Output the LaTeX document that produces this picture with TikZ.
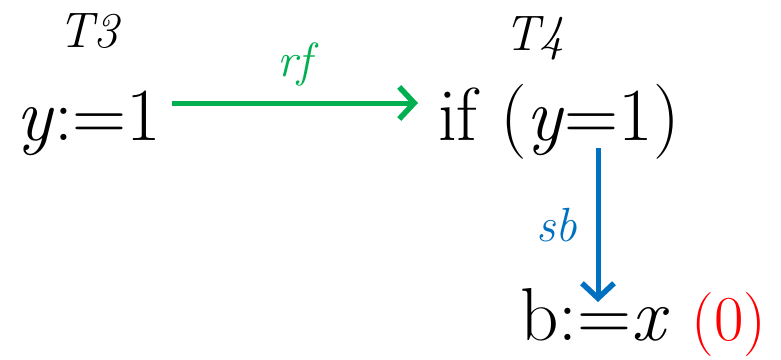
\documentclass[tikz,border=0pt]{standalone}
\usetikzlibrary{arrows.meta}
\definecolor{rfgreen}{RGB}{0,176,80}
\definecolor{sbblue}{RGB}{0,112,192}
\definecolor{valred}{RGB}{255,0,0}
\tikzset{
  big/.style={font=\fontsize{75}{80}\selectfont, inner sep=0pt},
  thread/.style={font=\fontsize{50}{56}\selectfont\itshape, inner sep=0pt},
  lbl/.style={font=\fontsize{48}{52}\selectfont\itshape, inner sep=0pt},
  rel/.style={line width=5pt, -{Straight Barb[length=15pt,width=32pt,line width=5.5pt]}},
}
\begin{document}
\begin{tikzpicture}[x=1pt,y=-1pt]
\useasboundingbox (0,0) rectangle (781,359);
\node[thread, anchor=base] (t3) at (88,47) {T3};
\node[thread, anchor=base] (t4) at (534,50) {T4};
\node[big, anchor=base west] (w) at (16,140) {\textit{y}:=1};
\node[big, anchor=base west] (r) at (438,140) {if (\textit{y}=1)};
\node[big, anchor=base west] (b) at (520,340) {b:=\textit{x} \textcolor{valred}{\fontsize{64}{66}\selectfont(0)}};
\coordinate (gs) at (172,103);
\coordinate (ge) at (418,103);
\coordinate (bs) at (598,148);
\coordinate (be) at (598,302);
\draw[rel, rfgreen] (gs) -- node[lbl, above=14pt] (rf) {rf} (ge);
\draw[rel, sbblue] (bs) -- node[lbl, left=18pt] (sb) {sb} (be);
\end{tikzpicture}
\end{document}
